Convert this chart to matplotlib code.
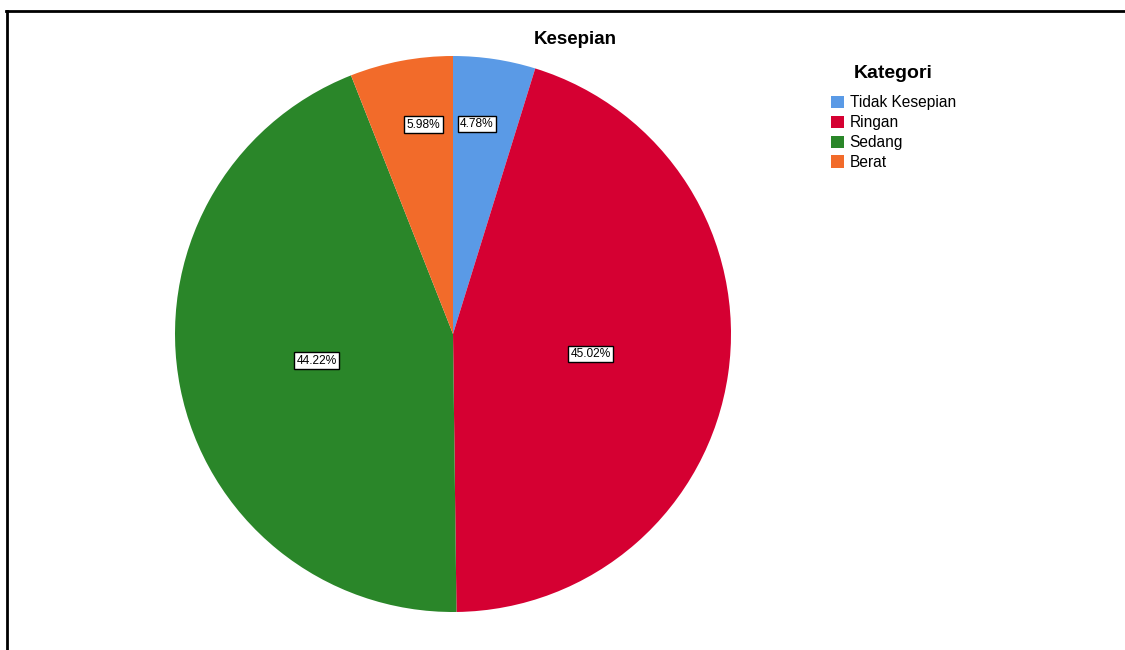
import numpy as np
import matplotlib
matplotlib.use("Agg")
import matplotlib.pyplot as plt
from matplotlib.lines import Line2D
from matplotlib.patches import Patch

plt.rcParams['font.family'] = ['Liberation Sans', 'DejaVu Sans']

# data
kategori = ["Tidak Kesepian", "Ringan", "Sedang", "Berat"]
persen = [4.78, 45.02, 44.22, 5.98]
warna = ["#5A9AE6", "#D50032", "#2A8629", "#F26B2A"]

W, H = 1125, 650
fig = plt.figure(figsize=(W / 100, H / 100), dpi=100)

# pie centre / radius in pixels
cx, cy, r = 453, 334, 278
ax = fig.add_axes([(cx - r) / W, (H - cy - r) / H, 2 * r / W, 2 * r / H])

wedges, _ = ax.pie(persen, colors=warna, startangle=90, counterclock=False,
                   wedgeprops=dict(linewidth=0))
ax.set_xlim(-1, 1)
ax.set_ylim(-1, 1)
ax.set_aspect("equal")

for w, p in zip(wedges, persen):
    mid = (w.theta1 + w.theta2) / 2
    if p > 20:
        d = 0.5
    else:
        # small slices: label sits a bit nearer the vertical
        d = 0.76
        off = ((mid - 90 + 180) % 360) - 180
        mid = 90 + off * 0.75
    ang = np.deg2rad(mid)
    ax.text(d * np.cos(ang), d * np.sin(ang), f"{p:.2f}%", ha="center", va="center",
            fontsize=8.6, color="black",
            bbox=dict(boxstyle="square,pad=0.2", fc="white", ec="black", lw=1))

fig.text(575 / W, 1 - 40 / H, "Kesepian", ha="center", va="center",
         fontsize=13.5, fontweight="bold")

fig.text(893 / W, 1 - 74 / H, "Kategori", ha="center", va="center",
         fontsize=14, fontweight="bold")
handles = [Patch(facecolor=c, edgecolor="none") for c in warna]
leg = fig.legend(handles, kategori, loc="upper left",
                 bbox_to_anchor=(831 / W, 1 - 95 / H), frameon=False,
                 fontsize=11.2,
                 handlelength=0.82, handleheight=0.82, handletextpad=0.38,
                 labelspacing=0.32, borderaxespad=0, borderpad=0)

# outer frame (left and top)
fig.add_artist(Line2D([7 / W, 7 / W], [0, 1 - 11 / H], color="black", lw=2,
                      transform=fig.transFigure))
fig.add_artist(Line2D([6 / W, 1], [1 - 11 / H, 1 - 11 / H], color="black", lw=2,
                      transform=fig.transFigure))

fig.savefig("out.png", dpi=100)
